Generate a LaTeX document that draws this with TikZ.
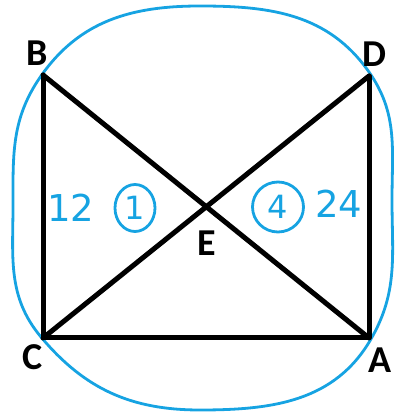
\documentclass[tikz,border=0pt]{standalone}
\usepackage{fontspec}
\setmainfont{Carlito}
\newfontfamily\handfont{DejaVu Sans}
\usetikzlibrary{shapes.geometric}
\definecolor{penblue}{RGB}{22,163,226}

\begin{document}
\begin{tikzpicture}[x=1pt,y=1pt]
\useasboundingbox (0,0) rectangle (394,415);
\tikzset{
  vlabel/.style={font=\fontsize{38}{38}\selectfont\bfseries},
  side/.style={line width=5pt, line cap=round, line join=round},
  pen/.style={penblue, line width=2.8pt},
  penmark/.style={text=penblue, font=\handfont\fontsize{37}{37}\selectfont},
  ring/.style={draw=penblue, line width=2.8pt, ellipse, inner sep=0pt, font=\handfont\fontsize{32}{32}\selectfont}
}
% corners of the rectangle
\coordinate (B) at (43,340);
\coordinate (D) at (369,339);
\coordinate (C) at (43,77);
\coordinate (A) at (369,77);
\coordinate (E) at (206,208);
% blue ring round the figure
\draw[pen] (200,409) to[out=0,in=125] (369,343)
  to[out=-55,in=90] (392,215) to[out=-90,in=60] (371,76)
  to[out=-120,in=0] (200,5) to[out=180,in=-50] (41,78)
  to[out=130,in=-90] (13,210) to[out=90,in=-125] (41,339)
  to[out=55,in=180] cycle;
% sides and diagonals, top left open
\draw[side] (B) -- (C) -- (A) -- (D);
\draw[side] (B) -- (A);
\draw[side] (D) -- (C);
\node[vlabel] (lB) at (37,362) {B};
\node[vlabel] (lD) at (374,361) {D};
\node[vlabel] (lC) at (33,58) {C};
\node[vlabel] (lA) at (380,55) {A};
\node[vlabel] (lE) at (207,172) {E};
% pen marks
\node[penmark] (n12) at (71,207) {12};
\node[penmark, ring, minimum width=40pt, minimum height=47pt] (r1) at (135,207) {1};
\node[penmark, ring, minimum width=51pt, minimum height=50pt] (r4) at (278,208) {4};
\node[penmark] (n24) at (339,211) {24};
\end{tikzpicture}
\end{document}
